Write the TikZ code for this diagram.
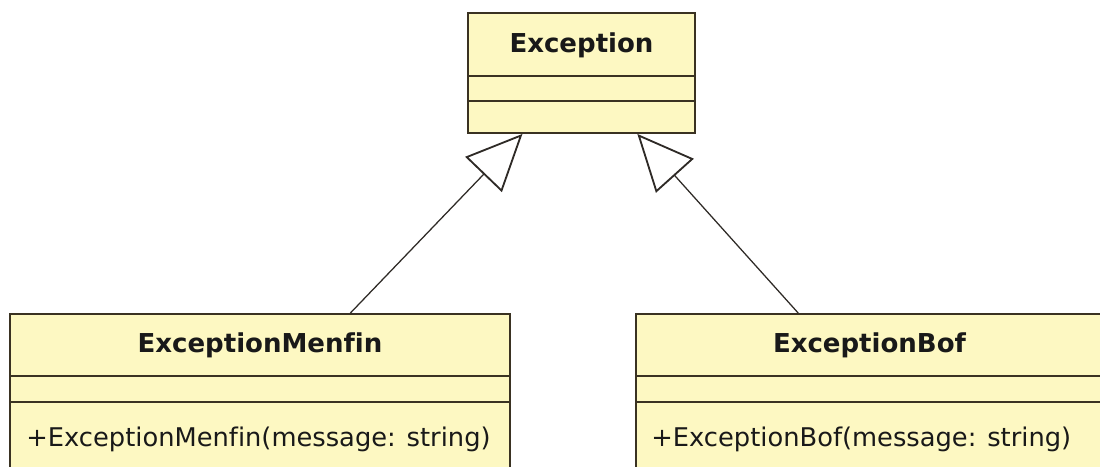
\documentclass[tikz,border=0pt]{standalone}
\usepackage{fontspec}
\setmainfont[Ligatures=NoCommon]{DejaVu Sans}
\usepackage{tikz}
\usetikzlibrary{arrows.meta,positioning,calc,fit}
\definecolor{umlfill}{HTML}{FDF8C2}
\definecolor{umlline}{HTML}{3A3222}
\definecolor{umlarrow}{HTML}{2E2A26}

\begin{document}
\begin{tikzpicture}[
    x=0.025cm, y=-0.025cm,
    classbox/.style={rectangle, draw=umlline, fill=umlfill, line width=1.3pt, inner sep=0pt},
    divider/.style={draw=umlline, line width=1.3pt},
    classname/.style={font=\fontsize{18.5}{22}\selectfont\bfseries, text=black!90, inner sep=0pt},
    member/.style={font=\fontsize{18.3}{22}\selectfont, text=black!90, inner sep=0pt, anchor=west},
    inherit/.style={-{Triangle[open, length=40pt, width=36pt, line width=1.3pt]}, line width=0.9pt, draw=umlarrow}
]
    \useasboundingbox (0,0) rectangle (1100,467);
    \clip (0,0) rectangle (1100,467);

    % Class Exception
    \node (exc) [classbox, fit={(468,13) (695,133)}] {};
    \draw [divider] ($(exc.north west)+(0,64)$) -- ($(exc.north east)+(0,64)$);
    \draw [divider] ($(exc.north west)+(0,89)$) -- ($(exc.north east)+(0,89)$);
    \node (exctitle) [classname] at ($(exc.north)+(0,33)$) {Exception};

    % Class ExceptionMenfin
    \node (menfin) [classbox, fit={(10,314) (510,480)}] {};
    \draw [divider] ($(menfin.north west)+(0,63)$) -- ($(menfin.north east)+(0,63)$);
    \draw [divider] ($(menfin.north west)+(0,89)$) -- ($(menfin.north east)+(0,89)$);
    \node (menfintitle) [classname] at ($(menfin.north)+(0,32)$) {ExceptionMenfin};
    \node (menfinop) [member] at ($(menfin.north west)+(17,126)$) {+ExceptionMenfin(message: string)};

    % Class ExceptionBof
    \node (bof) [classbox, fit={(636,314) (1103,480)}] {};
    \draw [divider] ($(bof.north west)+(0,63)$) -- ($(bof.north east)+(0,63)$);
    \draw [divider] ($(bof.north west)+(0,89)$) -- ($(bof.north east)+(0,89)$);
    \node (boftitle) [classname] at ($(bof.north)+(0,32)$) {ExceptionBof};
    \node (bofop) [member] at ($(bof.north west)+(16,126)$) {+ExceptionBof(message: string)};

    % Generalizations
    \draw [inherit] ($(menfin.north west)!0.68!(menfin.north east)$) -- ($(exc.south west)!0.242!(exc.south east)$);
    \draw [inherit] ($(bof.north west)!0.348!(bof.north east)$) -- ($(exc.south west)!0.744!(exc.south east)$);
\end{tikzpicture}
\end{document}
